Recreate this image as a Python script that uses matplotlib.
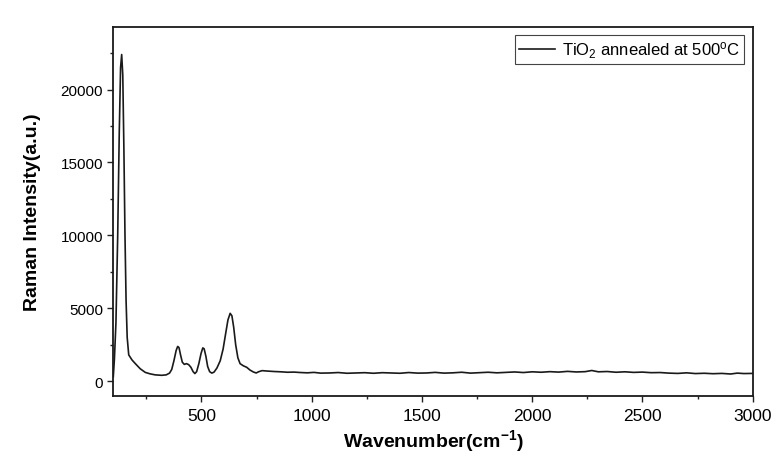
import matplotlib
matplotlib.use("Agg")
import matplotlib.pyplot as plt
from matplotlib.ticker import MultipleLocator

plt.rcParams["font.family"] = ["Liberation Sans", "DejaVu Sans"]
plt.rcParams["mathtext.fontset"] = "custom"
plt.rcParams["mathtext.rm"] = "Liberation Sans"
plt.rcParams["mathtext.bf"] = "Liberation Sans:bold"
plt.rcParams["mathtext.default"] = "regular"

# Raman spectrum of annealed TiO2 (wavenumber in cm^-1, intensity in a.u.)
wavenumber = [
    100, 105, 112, 120, 127, 133, 138, 143, 148, 153, 158, 163, 170, 185, 200,
    222, 245, 267, 290, 320, 340, 355, 365, 375, 385, 392, 398, 405, 413, 422,
    432, 442, 452, 462, 470, 478, 488, 498, 506, 512, 520, 528, 537, 547, 557,
    570, 585, 598, 610, 620, 630, 638, 646, 655, 665, 675, 690, 705, 720, 735,
    748, 760, 775, 800, 830, 860, 890, 920, 950, 980, 1010, 1040, 1080, 1120,
    1160, 1200, 1240, 1280, 1320, 1360, 1400, 1440, 1480, 1520, 1560, 1600,
    1640, 1680, 1720, 1760, 1800, 1840, 1880, 1920, 1960, 2000, 2040, 2080,
    2120, 2160, 2200, 2240, 2270, 2300, 2340, 2380, 2420, 2460, 2500, 2540,
    2580, 2620, 2660, 2700, 2740, 2780, 2820, 2860, 2900, 2930, 2960, 3000,
]
intensity = [
    300, 1500, 4000, 10000, 17000, 21500, 22400, 21000, 16000, 10000, 5500,
    3000, 1800, 1450, 1200, 850, 600, 500, 430, 400, 430, 550, 800, 1400, 2100,
    2380, 2300, 1800, 1300, 1150, 1200, 1130, 950, 650, 520, 650, 1200, 1900,
    2280, 2220, 1700, 1000, 650, 550, 620, 900, 1400, 2200, 3300, 4200, 4650,
    4480, 3700, 2500, 1600, 1200, 1050, 950, 760, 630, 560, 650, 720, 690, 660,
    640, 610, 620, 590, 570, 600, 550, 560, 590, 540, 560, 580, 540, 580, 560,
    540, 590, 550, 560, 600, 550, 570, 610, 550, 580, 610, 570, 600, 630, 590,
    640, 610, 650, 620, 670, 630, 650, 730, 640, 660, 610, 640, 600, 620, 580,
    590, 550, 530, 570, 520, 540, 510, 530, 490, 550, 520, 530,
]

xticks = [500, 1000, 1500, 2000, 2500, 3000]
yticks = [0, 5000, 10000, 15000, 20000]

fig = plt.figure(figsize=(7.76, 4.64), dpi=100)
ax = fig.add_axes([0.146, 0.145, 0.824, 0.795])

ax.plot(wavenumber, intensity, color="#1a1a1a", lw=1.2,
        label="TiO$_2$ annealed at 500$^{o}$C")

ax.set_xlim(100, 3000)
ax.set_ylim(-1000, 24300)
ax.set_xticks(xticks)
ax.set_yticks(yticks)
ax.xaxis.set_minor_locator(MultipleLocator(250))
ax.yaxis.set_minor_locator(MultipleLocator(2500))
ax.tick_params(which="both", direction="out", top=False, right=False,
               width=1.0, color="#222222")
ax.tick_params(which="major", length=4.5)
ax.tick_params(which="minor", length=2.5)
ax.tick_params(axis="x", labelsize=12.5, pad=4)
ax.tick_params(axis="y", labelsize=11, pad=3)
for sp in ax.spines.values():
    sp.set_linewidth(1.3)
    sp.set_color("#1a1a1a")

ax.set_xlabel("Wavenumber(cm$^{\\mathbf{-1}}$)", fontsize=14,
              fontweight="bold", labelpad=3)
ax.set_ylabel("Raman Intensity(a.u.)", fontsize=14, fontweight="bold",
              labelpad=14)

leg = ax.legend(loc="upper right", fontsize=12, frameon=True, fancybox=False,
                edgecolor="#444444", framealpha=1, handlelength=2.2,
                handletextpad=0.4, borderpad=0.25, borderaxespad=0.5)
leg.get_frame().set_linewidth(0.8)

fig.savefig("out.png", dpi=100)
